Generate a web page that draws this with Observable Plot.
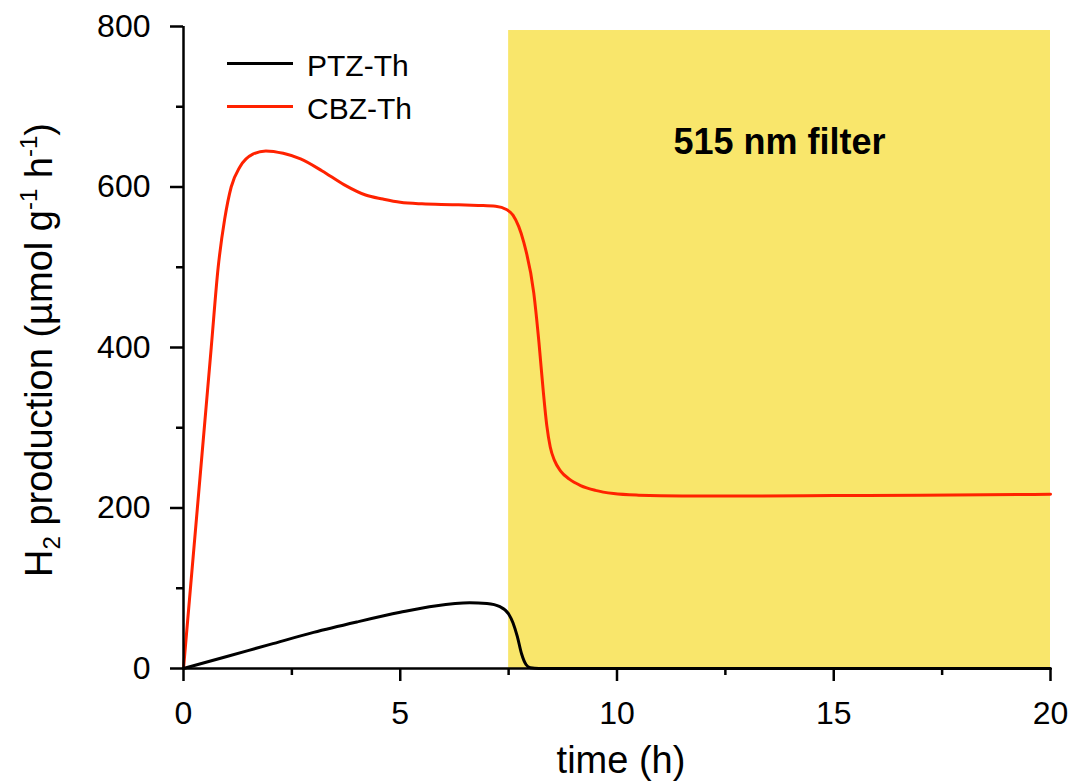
<!DOCTYPE html>
<html><head><meta charset="utf-8">
<script src="https://cdn.jsdelivr.net/npm/d3@7"></script>
<script src="https://cdn.jsdelivr.net/npm/@observablehq/plot@0.6"></script>
<style>body{margin:0;background:#fff;} svg{display:block;}</style>
</head><body><div id="chart"></div>
<script>
// CBZ-Th series (time in h, H2 production in µmol g-1 h-1)
const cbzTime  = [0, 0.16, 0.32, 0.48, 0.64, 0.80, 0.95, 1.1, 1.3, 1.6, 1.9, 2.3, 2.7, 3.2, 3.7, 4.2, 4.6, 5.0, 5.5, 6.2, 6.8, 7.2, 7.45, 7.6, 7.85, 8.08, 8.2, 8.3, 8.38, 8.46, 8.56, 8.7, 8.9, 9.16, 9.5, 9.92, 10.5, 11.5, 13, 15, 17, 20];
const cbzValue = [0, 100, 200, 300, 400, 500, 560, 600, 625, 641, 645, 642, 635, 620, 603, 590, 585, 581, 579, 578, 577, 576, 572, 565, 531, 468, 406, 345, 303, 276, 259, 246, 236, 228, 222, 218, 216, 215, 215, 215.5, 216, 217];
// PTZ-Th series
const ptzTime  = [0, 1, 2, 3, 4, 5, 5.8, 6.6, 7.0, 7.3, 7.5, 7.6, 7.7, 7.8, 7.9, 8.0, 8.2, 20];
const ptzValue = [0, 15, 30, 45, 58, 70, 78, 82, 81, 77, 68, 57, 40, 18, 5, 1, 0, 0];

const seriesNames = ["PTZ-Th", "CBZ-Th"];
const seriesColors = ["#000000", "#FF2200"];

const yMajor = [0, 200, 400, 600, 800];
const yMinor = [100, 300, 500, 700];
const xMajor = [0, 5, 10, 15, 20];
const xMinor = [2.5, 7.5, 12.5, 17.5];

const filterStart = 7.5, filterEnd = 20, filterTop = 795;
const filterLabel = "515 nm filter";

const cbz = cbzTime.map((t, i) => ({t, v: cbzValue[i]}));
const ptz = ptzTime.map((t, i) => ({t, v: ptzValue[i]}));
const filter = [{x1: filterStart, x2: filterEnd, y2: filterTop, label: filterLabel}];

const font = "'Liberation Sans', Arial, sans-serif";

const plot = Plot.plot({
  width: 1076, height: 783,
  marginLeft: 183, marginRight: 26, marginTop: 26, marginBottom: 115,
  style: {fontFamily: font, background: "white", color: "black"},
  x: {domain: [0, 20]},
  y: {domain: [0, 800]},
  marks: [
    Plot.rect(filter, {x1: "x1", x2: "x2", y1: 0, y2: "y2", fill: "#F9E66B"}),
    Plot.text(filter, {x: d => (d.x1 + d.x2) / 2, frameAnchor: "top", dy: 116, text: "label",
      fontSize: 36, fontWeight: "bold", fill: "black", lineAnchor: "middle"}),
    Plot.line(cbz, {x: "t", y: "v", stroke: seriesColors[1], strokeWidth: 3, curve: "monotone-x"}),
    Plot.line(ptz, {x: "t", y: "v", stroke: seriesColors[0], strokeWidth: 3, curve: "monotone-x"}),
    Plot.ruleX([0], {stroke: "black", strokeWidth: 2.5}),
    Plot.ruleY([0], {stroke: "black", strokeWidth: 2.5}),
    Plot.axisY({ticks: yMajor, tickSize: 13, tickPadding: 20, fontSize: 32, strokeWidth: 2.5, label: null}),
    Plot.axisY({ticks: yMinor, tickSize: 7, tickFormat: () => "", strokeWidth: 2.5, label: null}),
    Plot.axisX({ticks: xMajor, tickSize: 13, tickPadding: 20, fontSize: 32, strokeWidth: 2.5, label: null}),
    Plot.axisX({ticks: xMinor, tickSize: 7, tickFormat: () => "", strokeWidth: 2.5, label: null})
  ]
});

const svg = d3.select(plot);

// x axis title
svg.append("text")
  .attr("x", 621).attr("y", 773)
  .attr("text-anchor", "middle")
  .attr("font-family", font).attr("font-size", 38).attr("fill", "black")
  .text("time (h)");

// y axis title with sub/superscripts
const yt = svg.append("text")
  .attr("transform", "translate(52,350) rotate(-90)")
  .attr("text-anchor", "middle")
  .attr("font-family", font).attr("font-size", 38).attr("fill", "black");
yt.append("tspan").text("H");
yt.append("tspan").attr("font-size", 24).attr("dy", 8).text("2");
yt.append("tspan").attr("dy", -8).text(" production (µmol g");
yt.append("tspan").attr("font-size", 24).attr("dy", -15).text("-1");
yt.append("tspan").attr("dy", 15).text(" h");
yt.append("tspan").attr("font-size", 24).attr("dy", -15).text("-1");
yt.append("tspan").attr("dy", 15).text(")");

// legend
const legendY = [63.5, 106.5];
seriesNames.forEach((name, i) => {
  svg.append("line")
    .attr("x1", 227).attr("x2", 293).attr("y1", legendY[i]).attr("y2", legendY[i])
    .attr("stroke", seriesColors[i]).attr("stroke-width", 3);
  svg.append("text")
    .attr("x", 307).attr("y", legendY[i] + 2).attr("dy", "0.35em")
    .attr("text-anchor", "start")
    .attr("font-family", font).attr("font-size", 30).attr("fill", "black")
    .text(name);
});

document.getElementById("chart").appendChild(plot);
</script>
</body></html>
